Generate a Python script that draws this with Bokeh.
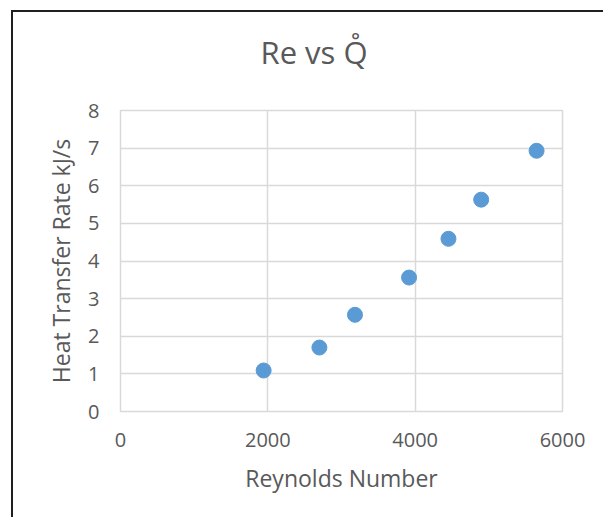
from bokeh.plotting import figure
from bokeh.models import FixedTicker, Title
from bokeh.layouts import column
from bokeh.embed import file_html
from bokeh.resources import INLINE

# Data
reynolds = [1943, 2700, 3183, 3917, 4452, 4896, 5648]
heat_rate = [1.09, 1.70, 2.57, 3.56, 4.59, 5.63, 6.93]
x_ticks = [0, 2000, 4000, 6000]
y_ticks = [0, 1, 2, 3, 4, 5, 6, 7, 8]
title_text = "Re vs Q\u030A"
x_title = "Reynolds Number"
y_title = "Heat Transfer Rate kJ/s"

FONT = "Open Sans"
TXT = "#595959"
GRID = "#D9D9D9"
EDGE = "#1f1f1f"

p = figure(
    frame_width=442, frame_height=301,
    x_range=(0, 6000), y_range=(0, 8),
    output_backend="svg", toolbar_location=None,
    min_border_left=120, min_border_right=41,
    min_border_top=110, min_border_bottom=106,
)

p.background_fill_color = "white"
p.border_fill_color = None
p.outline_line_color = GRID
p.outline_line_width = 1.5

for ax in (p.xaxis[0], p.yaxis[0]):
    ax.axis_line_color = None
    ax.major_tick_line_color = None
    ax.minor_tick_line_color = None
    ax.major_label_text_font = FONT
    ax.major_label_text_color = TXT
    ax.major_label_text_font_size = "20px"
    ax.axis_label_text_font = FONT
    ax.axis_label_text_color = TXT
    ax.axis_label_text_font_size = "23px"
    ax.axis_label_text_font_style = "normal"

p.xaxis.ticker = FixedTicker(ticks=x_ticks)
p.yaxis.ticker = FixedTicker(ticks=y_ticks)
p.xaxis.major_label_standoff = 15
p.yaxis.major_label_standoff = 15
p.xaxis.axis_label = x_title
p.yaxis.axis_label = y_title
p.xaxis.axis_label_standoff = 12
p.yaxis.axis_label_standoff = 8

p.xgrid.ticker = FixedTicker(ticks=x_ticks)
p.ygrid.ticker = FixedTicker(ticks=y_ticks)
p.xgrid.grid_line_color = GRID
p.ygrid.grid_line_color = GRID
p.xgrid.grid_line_width = 1.5
p.ygrid.grid_line_width = 1.5

p.scatter(reynolds, heat_rate, marker="circle", size=15,
          fill_color="#5B9BD5", line_color="#5B9BD5")

# spacer panel between frame and title
spacer = Title(text=" ", standoff=35, text_font_size="1px")
p.add_layout(spacer, "above")
t = Title(text=title_text, align="left", offset=140, standoff=0,
          text_font=FONT, text_font_size="31px", text_color=TXT,
          text_font_style="normal")
p.add_layout(t, "above")

# chart-area border (left and top edges visible, as in the reference)
layout = column(p, styles={
    "background-color": "white",
    "background-image": f"linear-gradient({EDGE},{EDGE}), linear-gradient({EDGE},{EDGE})",
    "background-size": "2px 100%, 100% 2px",
    "background-position": "11px 10px, 11px 10px",
    "background-repeat": "no-repeat",
})

open("out.html", "w").write(file_html(layout, INLINE))
